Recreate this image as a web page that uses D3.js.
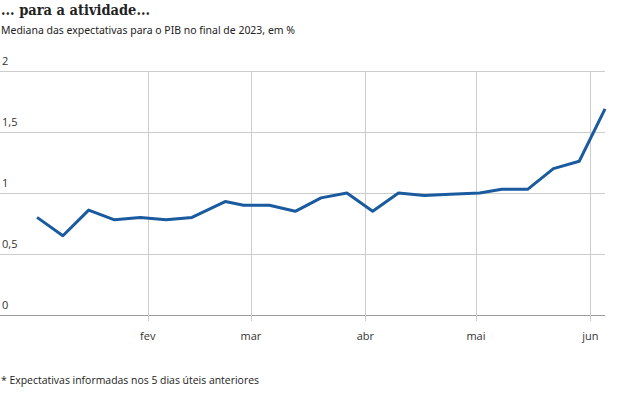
<!DOCTYPE html>
<html>
<head>
<meta charset="utf-8">
<script src="https://cdn.jsdelivr.net/npm/d3@7"></script>
<style>
  body { margin: 0; background: #fff; }
  svg { display: block; }
</style>
</head>
<body>
<svg id="chart" width="629" height="397"></svg>
<script>
// datas do boletim Focus (semanal)
var datas = ["2023-01-02","2023-01-09","2023-01-16","2023-01-23","2023-01-30","2023-02-06","2023-02-13",
  "2023-02-22","2023-02-27","2023-03-06","2023-03-13","2023-03-20","2023-03-27","2023-04-03","2023-04-10",
  "2023-04-17","2023-04-24","2023-05-02","2023-05-08","2023-05-15","2023-05-22","2023-05-29","2023-06-05"];
var pib = [0.80,0.65,0.86,0.78,0.80,0.78,0.80,0.93,0.90,0.90,0.85,0.96,1.00,0.85,1.00,
  0.98,0.99,1.00,1.03,1.03,1.20,1.26,1.69];
var mesesTicks = ["2023-02-01","2023-03-01","2023-04-01","2023-05-01","2023-06-01"];
var mesesNomes = ["fev","mar","abr","mai","jun"];
var yTicks = [0,0.5,1,1.5,2];

var parse = d3.utcParse("%Y-%m-%d");
var pontos = datas.map(function(d,i){ return {data: parse(d), valor: pib[i]}; });

var svg = d3.select("#chart");

var x = d3.scaleUtc()
    .domain([parse(mesesTicks[0]), parse(mesesTicks[4])])
    .range([147.7, 590.3]);

var y = d3.scaleLinear()
    .domain([0,2])
    .range([315, 71]);

// titulos
svg.append("text")
    .attr("x",1).attr("y",15)
    .style("font-family","'DejaVu Serif', serif")
    .style("font-weight","bold")
    .style("font-size","15px")
    .style("fill","#222")
    .attr("textLength",149)
    .attr("lengthAdjust","spacingAndGlyphs")
    .text("... para a atividade...");

svg.append("text")
    .attr("x",1).attr("y",34)
    .style("font-family","'Noto Sans', sans-serif")
    .style("font-size","11.5px")
    .style("fill","#222")
    .attr("textLength",294)
    .attr("lengthAdjust","spacingAndGlyphs")
    .text("Mediana das expectativas para o PIB no final de 2023, em %");

// grade horizontal
var gy = svg.append("g");
gy.selectAll("line").data(yTicks).enter().append("line")
    .attr("x1",0).attr("x2",605)
    .attr("y1",function(d){ return y(d)+0.5; })
    .attr("y2",function(d){ return y(d)+0.5; })
    .style("stroke",function(d){ return d===0 ? "#9a9a9a" : "#cccccc"; })
    .style("stroke-width",1);

gy.selectAll("text").data(yTicks).enter().append("text")
    .attr("x",2)
    .attr("y",function(d){ return y(d)-6; })
    .style("font-family","'Open Sans', sans-serif")
    .style("font-size","11px")
    .style("fill","#333")
    .text(function(d){ return d3.format("")(d).replace(".",","); });

// grade vertical (meses)
var gx = svg.append("g");
gx.selectAll("line").data(mesesTicks).enter().append("line")
    .attr("x1",function(d){ return Math.round(x(parse(d)))+0.5; })
    .attr("x2",function(d){ return Math.round(x(parse(d)))+0.5; })
    .attr("y1",y(2)).attr("y2",321)
    .style("stroke","#cccccc")
    .style("stroke-width",1);

gx.selectAll("text").data(mesesTicks).enter().append("text")
    .attr("x",function(d){ return x(parse(d)); })
    .attr("y",340)
    .attr("text-anchor","middle")
    .style("font-family","'Open Sans', sans-serif")
    .style("font-size","11px")
    .style("fill","#333")
    .text(function(d,i){ return mesesNomes[i]; });

// linha
var linha = d3.line()
    .x(function(d){ return x(d.data); })
    .y(function(d){ return y(d.valor); });

svg.append("path")
    .datum(pontos)
    .attr("d",linha)
    .style("fill","none")
    .style("stroke","#1a5a9e")
    .style("stroke-width",3)
    .style("stroke-linejoin","round");

// nota
svg.append("text")
    .attr("x",1).attr("y",384)
    .style("font-family","'Open Sans', sans-serif")
    .style("font-size","11px")
    .style("fill","#222")
    .attr("textLength",258)
    .attr("lengthAdjust","spacingAndGlyphs")
    .text("* Expectativas informadas nos 5 dias úteis anteriores");
</script>
</body>
</html>
